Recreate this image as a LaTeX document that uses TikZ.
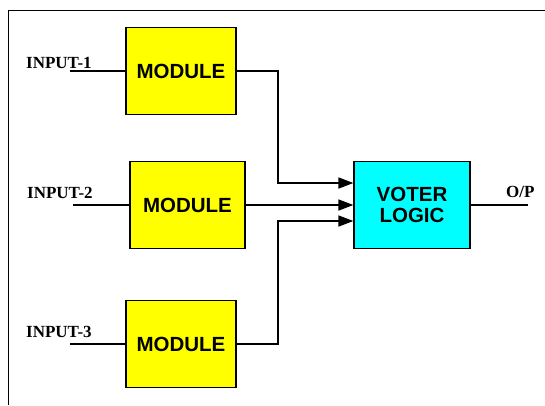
\documentclass[tikz,border=0pt]{standalone}
\usepackage{fontspec}
\setmainfont{Liberation Serif}
\newfontfamily\blockfont{Liberation Sans}
\usetikzlibrary{arrows.meta}
\definecolor{modyellow}{RGB}{255,255,0}
\definecolor{votercyan}{RGB}{0,255,255}
\tikzset{
  block/.style={draw=black, line width=1.2pt, minimum height=86.6pt, inner sep=0pt,
    font=\blockfont\bfseries\fontsize{20.5}{22}\selectfont, align=center},
  modbox/.style={block, fill=modyellow, minimum width=110pt},
  voterbox/.style={block, fill=votercyan, minimum width=116pt},
  wire/.style={line width=1.6pt},
  arr/.style={wire, -{Triangle[length=15pt,width=11pt]}},
  lbl/.style={anchor=base west, inner sep=0pt, font=\bfseries\fontsize{17}{19}\selectfont},
}
\begin{document}
\begin{tikzpicture}[x=1pt, y=-1pt]
\useasboundingbox (0,0) rectangle (545,405);
% open frame along the top and left
\coordinate (fa) at (8,405);
\coordinate (fb) at (8,10);
\coordinate (fc) at (545,10);
\draw[line width=1pt] (fa) -- (fb) -- (fc);

% redundant modules and the voter
\node[modbox] (m1) at (181,71) {MODULE};
\node[modbox, minimum width=115pt] (m2) at (187.5,205) {MODULE};
\node[modbox] (m3) at (181,344) {MODULE};
\node[voterbox] (v) at (412,205) {VOTER\\[-1pt]LOGIC};

% inputs
\coordinate (i1) at (70,71);
\coordinate (i2) at (73,205);
\coordinate (i3) at (70,344);
\draw[wire] (i1) -- (m1.west);
\draw[wire] (i2) -- (m2.west);
\draw[wire] (i3) -- (m3.west);
\node[lbl] (l1) at (26,68) {INPUT-1};
\node[lbl] (l2) at (27,198) {INPUT-2};
\node[lbl] (l3) at (26,337) {INPUT-3};

% module outputs into the voter
\coordinate (b1) at (278,183);
\coordinate (b3) at (278,221);
\coordinate (v1) at (v.west |- b1);
\coordinate (v3) at (v.west |- b3);
\draw[arr] (m1.east) -| (b1) -- (v1);
\draw[arr] (m2.east) -- (v.west);
\draw[arr] (m3.east) -| (b3) -- (v3);

% voter output
\coordinate (op) at (528,205);
\draw[wire] (v.east) -- (op);
\node[lbl] (lo) at (506,197) {O/P};
\end{tikzpicture}
\end{document}
